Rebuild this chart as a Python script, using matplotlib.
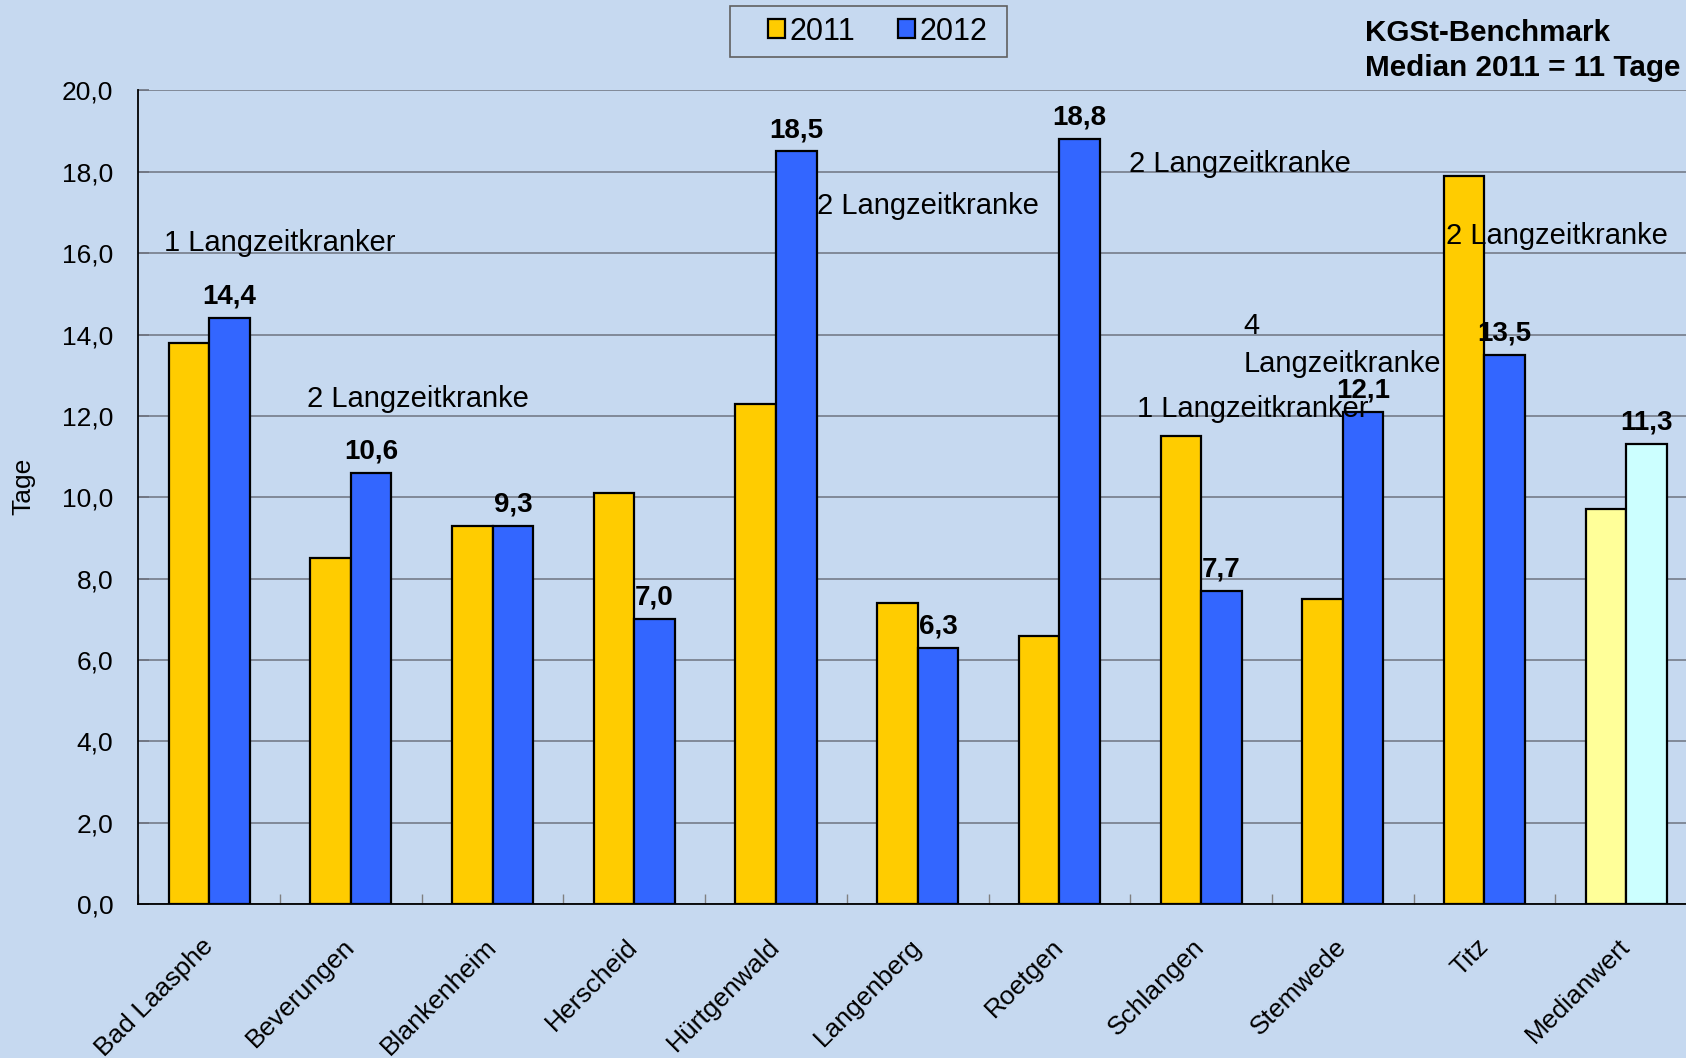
import matplotlib
matplotlib.use('Agg')
import matplotlib.pyplot as plt
from matplotlib.patches import Rectangle
import numpy as np

# Krankheitstage je Beschäftigtem, 2011 vs. 2012
orte = ['Bad Laasphe', 'Beverungen', 'Blankenheim', 'Herscheid', 'Hürtgenwald',
        'Langenberg', 'Roetgen', 'Schlangen', 'Stemwede', 'Titz', 'Medianwert']
tage_2011 = [13.8, 8.5, 9.3, 10.1, 12.3, 7.4, 6.6, 11.5, 7.5, 17.9, 9.7]
tage_2012 = [14.4, 10.6, 9.3, 7.0, 18.5, 6.3, 18.8, 7.7, 12.1, 13.5, 11.3]

# Hinweise im Diagramm: (x in Kategorien, y in Tagen, Text)
hinweise = [(-0.32, 16.25, '1 Langzeitkranker'),
            (0.69, 12.42, '2 Langzeitkranke'),
            (4.29, 17.15, '2 Langzeitkranke'),
            (6.49, 18.18, '2 Langzeitkranke'),
            (7.30, 13.75, '4\nLangzeitkranke'),
            (6.55, 12.18, '1 Langzeitkranker'),
            (8.73, 16.41, '2 Langzeitkranke')]

BG = '#C6D9F0'
GELB, BLAU = '#FFCC00', '#3366FF'
GELB_MED, BLAU_MED = '#FFFF99', '#CCFFFF'
GRID = '#6E7480'
W, H = 1686, 1058

plt.rcParams['font.family'] = ['Liberation Sans', 'DejaVu Sans']

fig = plt.figure(figsize=(W / 100, H / 100), dpi=100, facecolor=BG)
ax = fig.add_axes([0.0821, 0.1456, 0.9244, 0.7689], facecolor=BG)

x = np.arange(len(orte))
w = 0.286
farben_11 = [GELB] * (len(orte) - 1) + [GELB_MED]
farben_12 = [BLAU] * (len(orte) - 1) + [BLAU_MED]
ax.bar(x - w / 2, tage_2011, w, color=farben_11, edgecolor='black', lw=1.6,
       zorder=3, label='2011')
ax.bar(x + w / 2, tage_2012, w, color=farben_12, edgecolor='black', lw=1.6,
       zorder=3, label='2012')

for xi, v in zip(x, tage_2012):
    ax.annotate(f'{v:.1f}'.replace('.', ','), (xi + w / 2, v),
                xytext=(0, 6), textcoords='offset points', ha='center',
                va='bottom', fontsize=20, fontweight='bold', zorder=5)

for hx, hy, txt in hinweise:
    ax.text(hx, hy, txt, fontsize=21, ha='left', va='center',
            linespacing=1.45, zorder=6)

ax.set_xlim(-0.5, len(orte) - 0.5)
ax.set_ylim(0, 20)
ax.set_yticks(np.arange(0, 20.1, 2))
ax.set_yticklabels([f'{v:.1f}'.replace('.', ',') for v in np.arange(0, 20.1, 2)])
ax.yaxis.grid(True, color=GRID, lw=1.1, zorder=0)
ax.tick_params(axis='y', direction='in', length=8, width=1.2, color=GRID,
               labelsize=19, pad=18)

ax.set_xticks(x)
ax.set_xticklabels(orte, rotation=45, ha='right', va='center',
                   rotation_mode='anchor', fontsize=19)
ax.tick_params(axis='x', length=0, pad=28)
ax.set_xticks(np.arange(-0.5, len(orte), 1), minor=True)
ax.tick_params(axis='x', which='minor', direction='in', length=7,
               color='#808080', width=1)

for s in ('top', 'right'):
    ax.spines[s].set_visible(False)
for s in ('left', 'bottom'):
    ax.spines[s].set_color('black')
    ax.spines[s].set_linewidth(1.3)

ax.set_ylabel('Tage', fontsize=19)
ax.yaxis.set_label_coords(-0.066, 0.513)

# legend frame drawn by hand so the box matches the original size
fig.patches.append(Rectangle((730 / W, 1 - 57 / H), 277 / W, 51 / H,
                             transform=fig.transFigure, facecolor='none',
                             edgecolor='#606060', lw=1.2))
leg = fig.legend(loc='center', bbox_to_anchor=(878 / W, 1 - 31.5 / H), ncol=2,
                 fontsize=22, frameon=False, handlelength=0.55,
                 handleheight=0.55, handletextpad=0.15, columnspacing=1.4)
leg.legend_handles[0].set_facecolor(GELB)
leg.legend_handles[1].set_facecolor(BLAU)

fig.text(1365 / W, 1 - 33 / H, 'KGSt-Benchmark', fontsize=21.3,
         fontweight='bold', va='center', ha='left')
fig.text(1365 / W, 1 - 68 / H, 'Median 2011 = 11 Tage', fontsize=21.3,
         fontweight='bold', va='center', ha='left')

fig.savefig('out.png', facecolor=BG)
